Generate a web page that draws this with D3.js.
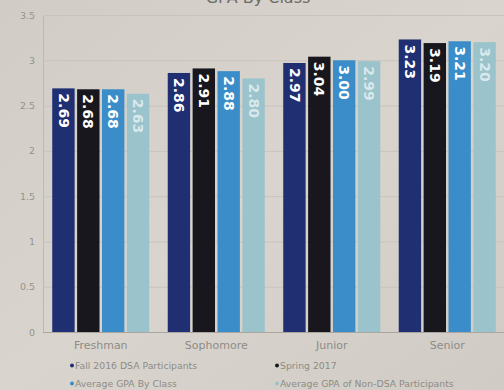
<!DOCTYPE html>
<html>
<head>
<meta charset="utf-8">
<script src="https://cdn.jsdelivr.net/npm/d3@7"></script>
<style>
  html, body { margin: 0; padding: 0; background: #d5d1ca; }
  svg { display: block; }
</style>
</head>
<body>
<svg id="chart" width="504" height="390"></svg>
<script>
// GPA by class, four series per class
const classes = ["Freshman", "Sophomore", "Junior", "Senior"];
const seriesNames = [
  "Fall 2016 DSA Participants",
  "Spring 2017",
  "Average GPA By Class",
  "Average GPA of Non-DSA Participants"
];
const fall2016 = [2.69, 2.86, 2.97, 3.23];
const spring2017 = [2.68, 2.91, 3.04, 3.19];
const avgByClass = [2.68, 2.88, 3.00, 3.21];
const avgNonDSA = [2.63, 2.80, 2.99, 3.20];
const yTicks = [0, 0.5, 1, 1.5, 2, 2.5, 3, 3.5];

const seriesValues = [fall2016, spring2017, avgByClass, avgNonDSA];
const colors = ["#1f2f72", "#18171d", "#3a8dc8", "#9bc3cb"];
const labelColors = ["#ffffff", "#ffffff", "#ffffff", "rgba(240,248,250,0.72)"];

const svg = d3.select("#chart");
const W = 504, H = 390;

// paper-like background with a soft shading
const defs = svg.append("defs");
const bg = defs.append("linearGradient").attr("id", "bg")
  .attr("x1", "0").attr("y1", "0").attr("x2", "1").attr("y2", "1");
bg.append("stop").attr("offset", "0").attr("stop-color", "#d1cdc6");
bg.append("stop").attr("offset", "0.5").attr("stop-color", "#d9d5ce");
bg.append("stop").attr("offset", "1").attr("stop-color", "#d0ccc5");
svg.append("rect").attr("width", W).attr("height", H).attr("fill", "url(#bg)");

const plotLeft = 43, plotRight = 505, plotTop = 15, plotBottom = 332;

const y = d3.scaleLinear().domain([0, 3.5]).range([plotBottom, plotTop]);
const x0 = d3.scaleBand().domain(classes).range([plotLeft, plotRight])
  .paddingInner(0.16).paddingOuter(0.08);
const x1 = d3.scaleBand().domain(d3.range(seriesNames.length))
  .range([0, x0.bandwidth()]).paddingInner(0.1);

// title (runs off the top edge of the page)
svg.append("text")
  .attr("x", 258).attr("y", 3)
  .attr("text-anchor", "middle")
  .attr("font-family", "DejaVu Sans, sans-serif")
  .attr("font-size", 16)
  .attr("fill", "#6e6c69")
  .text("GPA By Class");

// gridlines
const yAxis = d3.axisLeft(y).tickValues(yTicks)
  .tickSize(-(W - plotLeft)).tickPadding(8)
  .tickFormat(d => d3.format("")(d));
const gy = svg.append("g").attr("transform", `translate(${plotLeft},0)`).call(yAxis);
gy.select(".domain").attr("stroke", "#bdb9b2").attr("stroke-width", 1);
gy.selectAll(".tick line").attr("stroke", "#c8c4bd").attr("stroke-width", 1);
gy.selectAll(".tick text")
  .attr("fill", "#95928d")
  .attr("font-family", "DejaVu Sans, sans-serif")
  .attr("font-size", 9.5);

// bars
const groups = svg.append("g").selectAll("g")
  .data(classes)
  .join("g")
  .attr("transform", d => `translate(${x0(d)},0)`);

groups.selectAll("rect")
  .data((c, ci) => seriesValues.map((vals, si) => ({ si, v: vals[ci] })))
  .join("rect")
  .attr("x", d => x1(d.si))
  .attr("width", x1.bandwidth())
  .attr("y", d => y(d.v))
  .attr("height", d => y(0) - y(d.v))
  .attr("fill", d => colors[d.si]);

// value labels, rotated to read downward from the bar top
groups.selectAll("text.val")
  .data((c, ci) => seriesValues.map((vals, si) => ({ si, v: vals[ci] })))
  .join("text")
  .attr("class", "val")
  .attr("transform", d => `translate(${x1(d.si) + x1.bandwidth() / 2},${y(d.v) + 5}) rotate(90)`)
  .attr("dy", "0.35em")
  .attr("font-family", "DejaVu Sans, sans-serif")
  .attr("font-weight", "bold")
  .attr("font-size", 14)
  .attr("fill", d => labelColors[d.si])
  .text(d => d3.format(".2f")(d.v));

// baseline
svg.append("line")
  .attr("x1", plotLeft).attr("x2", W)
  .attr("y1", y(0) + 0.5).attr("y2", y(0) + 0.5)
  .attr("stroke", "#a9a59f").attr("stroke-width", 1);

// category labels
const xAxis = d3.axisBottom(x0).tickSize(0).tickPadding(9);
const gx = svg.append("g").attr("transform", `translate(0,${plotBottom})`).call(xAxis);
gx.select(".domain").remove();
gx.selectAll(".tick text")
  .attr("fill", "#8e8b86")
  .attr("font-family", "DejaVu Sans, sans-serif")
  .attr("font-size", 11);

// legend
const legendPos = [[70, 366], [275, 366], [70, 384], [275, 384]];
const legend = svg.append("g").selectAll("g")
  .data(seriesNames)
  .join("g")
  .attr("transform", (d, i) => `translate(${legendPos[i][0]},${legendPos[i][1]})`);
legend.append("circle")
  .attr("cx", 2).attr("cy", -0.5).attr("r", 2)
  .attr("fill", (d, i) => colors[i]);
legend.append("text")
  .attr("x", 5).attr("dy", "0.33em")
  .attr("font-family", "DejaVu Sans, sans-serif")
  .attr("font-size", 9.3)
  .attr("fill", "#8e8b86")
  .text(d => d);
</script>
</body>
</html>
